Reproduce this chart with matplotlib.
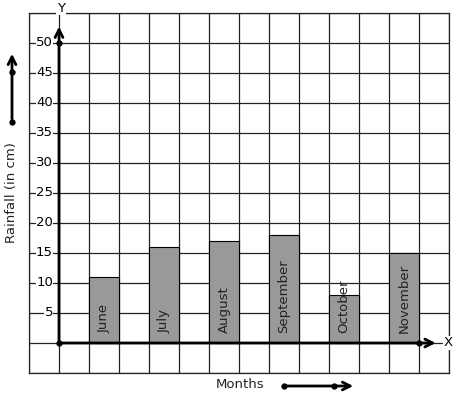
import matplotlib
matplotlib.use('Agg')
import matplotlib.pyplot as plt

months = ['June', 'July', 'August', 'September', 'October', 'November']
rainfall = [11, 16, 17, 18, 8, 15]
bar_pos = [1.5, 3.5, 5.5, 7.5, 9.5, 11.5]
y_ticks = [5, 10, 15, 20, 25, 30, 35, 40, 45, 50]

plt.rcParams['font.family'] = 'DejaVu Sans'

fig = plt.figure(figsize=(4.57, 3.99), dpi=100)
ax = fig.add_axes([29 / 457, 26 / 399, 420 / 457, 360 / 399])
ax.set_xlim(-1, 13)
ax.set_ylim(-5, 55)

# square grid
grid_col = '#222222'
for gx in range(-1, 14):
    ax.axvline(gx, color=grid_col, lw=0.9, zorder=1)
for gy in range(-5, 56, 5):
    ax.axhline(gy, color=grid_col, lw=0.9, zorder=1)
for s in ax.spines.values():
    s.set_color(grid_col)
    s.set_linewidth(0.9)
ax.set_xticks([])
ax.set_yticks([])

# bars
ax.bar(bar_pos, rainfall, width=1, color='#999999', edgecolor='black', lw=0.8, zorder=2)
for x, m in zip(bar_pos, months):
    ax.text(x, 1.6, m, rotation=90, ha='center', va='bottom', fontsize=9.5,
            color='#222222', zorder=4)

# y tick labels
for v in y_ticks:
    ax.text(-0.2, v, str(v), ha='right', va='center', fontsize=9.5, zorder=3,
            bbox=dict(facecolor='white', edgecolor='none', pad=0.3))

# axes with arrows
ax.annotate('', xy=(0, 53.2), xytext=(0, 0),
            arrowprops=dict(arrowstyle='->', lw=2, color='black', mutation_scale=14),
            zorder=5, annotation_clip=False)
ax.annotate('', xy=(12.65, 0), xytext=(0, 0),
            arrowprops=dict(arrowstyle='->', lw=2, color='black', mutation_scale=14),
            zorder=5, annotation_clip=False)
ax.plot([0, 0, 12], [50, 0, 0], 'o', color='black', ms=3.5, zorder=6)
ax.text(12.97, 0, 'X', ha='center', va='center', fontsize=9.5, zorder=6,
        bbox=dict(facecolor='white', edgecolor='none', pad=0.5))
ax.text(0.07, 55.8, 'Y', ha='center', va='center', fontsize=9.5, zorder=6,
        clip_on=False, bbox=dict(facecolor='white', edgecolor='none', pad=0.5))

# left arrow and label
fig.add_artist(matplotlib.patches.FancyArrowPatch(
    (12, 277), (12, 348), transform=None, arrowstyle='->', lw=2,
    color='black', mutation_scale=14))
fig.add_artist(matplotlib.lines.Line2D([12, 12], [277, 327], transform=None,
                                       ls='none', marker='o', ms=3.5, color='black'))
fig.text(12 / 457, 206 / 399, 'Rainfall (in cm)', rotation=90, ha='center', va='center',
         fontsize=9.5, color='#222222')

# bottom arrow and label
fig.add_artist(matplotlib.patches.FancyArrowPatch(
    (284, 13), (356, 13), transform=None, arrowstyle='->', lw=2,
    color='black', mutation_scale=14))
fig.add_artist(matplotlib.lines.Line2D([284, 334], [13, 13], transform=None,
                                       ls='none', marker='o', ms=3.5, color='black'))
fig.text(240 / 457, 14 / 399, 'Months', ha='center', va='center', fontsize=9.5,
         color='#222222')

fig.savefig('out.png', dpi=100)
